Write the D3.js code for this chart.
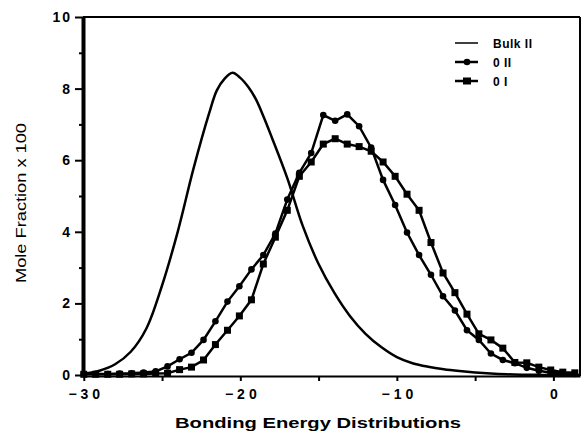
<!DOCTYPE html>
<html>
<head>
<meta charset="utf-8">
<script src="https://cdn.jsdelivr.net/npm/d3@7/dist/d3.min.js"></script>
<style>
  html, body { margin: 0; padding: 0; background: #fff; }
  svg { display: block; }
  text { font-family: "Liberation Sans", Arial, sans-serif; fill: #000; }
</style>
</head>
<body>
<svg id="chart" width="582" height="438"></svg>
<script>
// Bulk II: smooth distribution curve
const bulkEnergy = [-30, -29, -28, -27, -26, -25, -24, -23, -22, -21.5, -21, -20.5, -20, -19.5, -19, -18.5, -18, -17, -16, -15, -14, -13, -12, -11, -10, -9, -8, -7, -6, -5, -4, -3, -2, -1, 0, 1, 1.7];
const bulkValue  = [0.03, 0.12, 0.3, 0.65, 1.3, 2.5, 4.0, 5.75, 7.3, 7.95, 8.28, 8.44, 8.3, 8.05, 7.7, 7.2, 6.65, 5.5, 4.15, 3.1, 2.3, 1.65, 1.15, 0.78, 0.5, 0.33, 0.23, 0.16, 0.11, 0.07, 0.04, 0.02, 0.01, 0.005, 0, 0, 0];

// Binned distributions (shared energy bins)
const energy = [-30.00, -29.24, -28.47, -27.71, -26.94, -26.18, -25.41, -24.65, -23.88, -23.12,
                -22.35, -21.59, -20.82, -20.06, -19.29, -18.53, -17.76, -17.00, -16.23, -15.47,
                -14.70, -13.94, -13.17, -12.41, -11.64, -10.88, -10.11, -9.35, -8.58, -7.82,
                -7.05, -6.29, -5.52, -4.76, -3.99, -3.23, -2.46, -1.70, -0.93, -0.17,
                0.60, 1.37];
const oII = [0.03, 0.03, 0.03, 0.04, 0.05, 0.07, 0.10, 0.24, 0.44, 0.62,
             0.98, 1.50, 2.05, 2.48, 2.95, 3.35, 3.95, 4.90, 5.65, 6.20,
             7.26, 7.10, 7.28, 6.95, 6.35, 5.45, 4.75, 3.98, 3.35, 2.80,
             2.20, 1.80, 1.25, 0.98, 0.60, 0.42, 0.33, 0.20, 0.12, 0.06,
             0.05, 0.03];
const oI  = [0.02, 0.02, 0.02, 0.02, 0.03, 0.03, 0.04, 0.05, 0.15, 0.22,
             0.42, 0.85, 1.25, 1.65, 2.10, 3.10, 3.85, 4.60, 5.55, 5.95,
             6.45, 6.60, 6.45, 6.38, 6.25, 5.95, 5.55, 5.05, 4.60, 3.70,
             2.85, 2.30, 1.70, 1.15, 0.98, 0.75, 0.35, 0.34, 0.22, 0.14,
             0.08, 0.06];

const xMajorTicks = [-30, -20, -10, 0];
const xMinorTicks = [-25, -15, -5];
const yMajorTicks = [0, 2, 4, 6, 8, 10];
const yMinorTicks = [1, 3, 5, 7, 9];
const seriesNames = ["Bulk II", "0 II", "0 I"];

const svg = d3.select("#chart");
const x = d3.scaleLinear().domain([-30.05, 1.7]).range([83, 580]);
const y = d3.scaleLinear().domain([0, 10]).range([375, 17]);

// frame
svg.append("line").attr("x1", 83).attr("x2", 580).attr("y1", y(10)).attr("y2", y(10))
  .attr("stroke", "#000").attr("stroke-width", 2);
svg.append("line").attr("x1", 580).attr("x2", 580).attr("y1", y(10)).attr("y2", 376)
  .attr("stroke", "#000").attr("stroke-width", 2);

// x axis
const xAxis = svg.append("g").attr("transform", "translate(0,376)")
  .call(d3.axisBottom(x).tickValues(xMajorTicks).tickSize(5).tickSizeOuter(0)
    .tickFormat(d => d < 0 ? "\u2212" + Math.abs(d) : String(d)));
xAxis.select(".domain").attr("stroke-width", 2);
xAxis.selectAll(".tick line").attr("stroke-width", 2);
xAxis.selectAll(".tick text")
  .attr("y", 23).attr("dy", 0)
  .style("font-size", "14px").style("font-weight", "bold").style("letter-spacing", "4px")
  .attr("dx", 2);
svg.append("g").attr("transform", "translate(0,376)")
  .call(d3.axisBottom(x).tickValues(xMinorTicks).tickSize(5).tickFormat(""))
  .call(g => g.select(".domain").remove())
  .selectAll(".tick line").attr("stroke-width", 2);

// y axis
const yAxis = svg.append("g").attr("transform", "translate(83,0)")
  .call(d3.axisLeft(y).tickValues(yMajorTicks).tickSize(8).tickSizeOuter(0).tickPadding(5));
yAxis.select(".domain").attr("stroke-width", 4);
yAxis.selectAll(".tick line").attr("stroke-width", 2);
yAxis.selectAll(".tick text")
  .style("font-size", "14px").style("font-weight", "bold").style("letter-spacing", "2px")
  .attr("dx", 2);
svg.append("g").attr("transform", "translate(83,0)")
  .call(d3.axisLeft(y).tickValues(yMinorTicks).tickSize(4).tickFormat(""))
  .call(g => g.select(".domain").remove())
  .selectAll(".tick line").attr("stroke-width", 2);

// axis titles
svg.append("text").attr("x", 318).attr("y", 428).attr("text-anchor", "middle")
  .attr("textLength", 286).attr("lengthAdjust", "spacingAndGlyphs")
  .style("font-size", "15px").style("font-weight", "bold")
  .text("Bonding Energy Distributions");
svg.append("text").attr("transform", "translate(26,203) rotate(-90)").attr("text-anchor", "middle")
  .attr("textLength", 160).attr("lengthAdjust", "spacingAndGlyphs")
  .style("font-size", "15px")
  .text("Mole Fraction x 100");

// curves
const plot = svg.append("g");
const bulkPts = bulkEnergy.map((e, i) => [e, bulkValue[i]]);
plot.append("path").datum(bulkPts)
  .attr("d", d3.line().x(d => x(d[0])).y(d => y(d[1])).curve(d3.curveCatmullRom))
  .attr("fill", "none").attr("stroke", "#000").attr("stroke-width", 2.5);

const lineGen = d3.line().x(d => x(d[0])).y(d => y(d[1]));
const oIIPts = energy.map((e, i) => [e, oII[i]]);
const oIPts = energy.map((e, i) => [e, oI[i]]);

plot.append("path").datum(oIPts).attr("d", lineGen)
  .attr("fill", "none").attr("stroke", "#000").attr("stroke-width", 2.5);
plot.selectAll("rect.oI").data(oIPts).enter().append("rect").attr("class", "oI")
  .attr("x", d => x(d[0]) - 3.5).attr("y", d => y(d[1]) - 3.5)
  .attr("width", 7).attr("height", 7).attr("fill", "#000");

plot.append("path").datum(oIIPts).attr("d", lineGen)
  .attr("fill", "none").attr("stroke", "#000").attr("stroke-width", 2.5);
plot.selectAll("circle.oII").data(oIIPts).enter().append("circle").attr("class", "oII")
  .attr("cx", d => x(d[0])).attr("cy", d => y(d[1])).attr("r", 3.3).attr("fill", "#000");

// legend
const legend = svg.append("g");
const rowY = [43, 62, 81];
seriesNames.forEach((name, i) => {
  legend.append("line").attr("x1", 455).attr("x2", 478).attr("y1", rowY[i]).attr("y2", rowY[i])
    .attr("stroke", "#000").attr("stroke-width", i === 0 ? 1.5 : 2.5);
  if (i === 1) legend.append("circle").attr("cx", 467).attr("cy", rowY[i]).attr("r", 3.3);
  if (i === 2) legend.append("rect").attr("x", 463).attr("y", rowY[i] - 3.5).attr("width", 8).attr("height", 7);
  legend.append("text").attr("x", 493).attr("y", rowY[i] + 4.5)
    .style("font-size", "12px").style("font-weight", "bold").style("letter-spacing", "0.5px")
    .text(name);
});
</script>
</body>
</html>
